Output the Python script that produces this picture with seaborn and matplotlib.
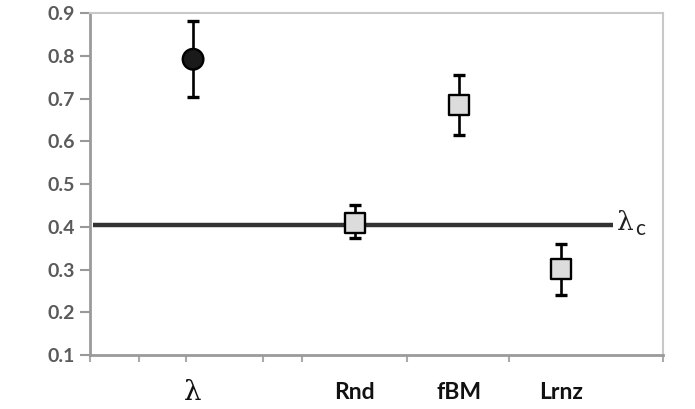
import matplotlib
matplotlib.use('Agg')
import matplotlib.pyplot as plt
import seaborn as sns
import pandas as pd
import numpy as np

# values
labels = ['λ', 'Rnd', 'fBM', 'Lrnz']
xpos = [1.0, 2.57, 3.58, 4.57]
means = [0.792, 0.409, 0.685, 0.301]
lower = [0.704, 0.374, 0.615, 0.240]
upper = [0.881, 0.451, 0.755, 0.360]
kind = ['measured', 'model', 'model', 'model']
lambda_c = 0.404
x_ticks_minor = [0.0, 0.476, 0.932, 1.68, 2.06, 3.08, 4.07, 5.56]

df = pd.DataFrame({'label': labels, 'x': xpos, 'mean': means,
                   'lo': lower, 'hi': upper, 'kind': kind})

sns.set_style('white')
plt.rcParams['font.family'] = ['Lato', 'DejaVu Sans']

fig = plt.figure(figsize=(6.95, 4.09), dpi=100)
ax = fig.add_axes([0.1295, 0.132, 0.8245, 0.836])

# critical line
ax.plot([0.03, 5.07], [lambda_c, lambda_c], color='#333333', lw=3.2,
        solid_capstyle='butt', zorder=2)
ax.annotate('λ', xy=(5.07, lambda_c), xytext=(3, 2), textcoords='offset points',
            fontsize=19, va='center', ha='left', color='#222222',
            family='DejaVu Serif')
ax.annotate('c', xy=(5.07, lambda_c), xytext=(16, -3), textcoords='offset points',
            fontsize=15, va='center', ha='left', color='#222222')

# error bars
ax.errorbar(df['x'], df['mean'],
            yerr=[df['mean'] - df['lo'], df['hi'] - df['mean']],
            fmt='none', ecolor='black', elinewidth=1.9, capsize=4,
            capthick=2.4, zorder=3)

sns.scatterplot(data=df, x='x', y='mean', hue='kind', style='kind',
                palette={'measured': '#1a1a1a', 'model': '#dcdcdc'},
                markers={'measured': 'o', 'model': 's'},
                s=220, edgecolor='black', linewidth=1.7, legend=False,
                ax=ax, zorder=4)

ax.set_xlim(0, 5.56)
ax.set_ylim(0.1, 0.9)
ax.set_yticks(np.arange(0.1, 0.91, 0.1))
ax.set_yticklabels([f'{v:.1f}' for v in np.arange(0.1, 0.91, 0.1)],
                   color='#5a5a5a', fontsize=14, fontweight='bold')
ax.tick_params(axis='y', direction='out', length=7, width=1.5,
               color='#999999', left=True, pad=4)

ax.set_xticks(xpos)
ax.set_xticklabels(labels, fontsize=16.5, fontweight='bold', color='#111111')
ax.set_xticks(x_ticks_minor, minor=True)
ax.tick_params(axis='x', which='major', length=0, pad=27)
ax.tick_params(axis='x', which='minor', direction='out', length=5,
               width=1.5, color='#aaaaaa', bottom=True)
for t in ax.get_xticklabels():
    t.set_verticalalignment('center')
    if t.get_text() == 'λ':
        t.set_fontsize(20)
        t.set_fontweight('normal')
        t.set_family('DejaVu Serif')

ax.set_xlabel('')
ax.set_ylabel('')

for side in ['top', 'right']:
    ax.spines[side].set_color('#c8c8c8')
    ax.spines[side].set_linewidth(1.5)
for side in ['left', 'bottom']:
    ax.spines[side].set_color('#9a9a9a')
    ax.spines[side].set_linewidth(2)

fig.savefig('out.png', dpi=100)
